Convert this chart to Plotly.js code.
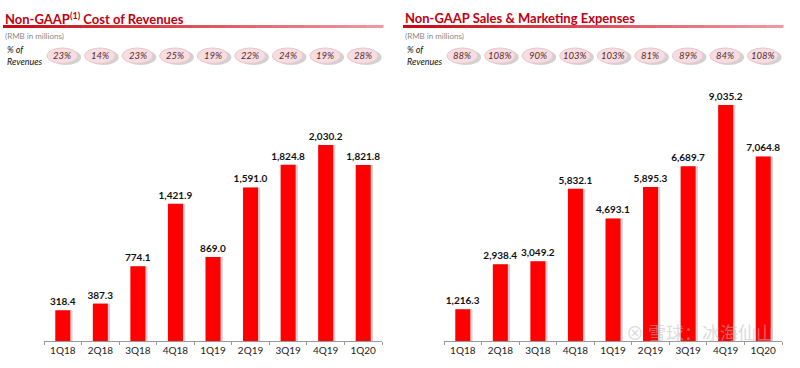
<!DOCTYPE html>
<html>
<head>
<meta charset="utf-8">
<script src="https://cdn.plot.ly/plotly-3.0.1.min.js"></script>
<style>
html,body{margin:0;padding:0;background:#fff;}
#chart{width:800px;height:368px;}
</style>
</head>
<body>
<div id="chart"></div>
<script>
// ---- data ----
const quarters = ['1Q18','2Q18','3Q18','4Q18','1Q19','2Q19','3Q19','4Q19','1Q20'];
const costValues = [318.4, 387.3, 774.1, 1421.9, 869.0, 1591.0, 1824.8, 2030.2, 1821.8];
const costLabels = ['318.4','387.3','774.1','1,421.9','869.0','1,591.0','1,824.8','2,030.2','1,821.8'];
const costPct = ['23%','14%','23%','25%','19%','22%','24%','19%','28%'];
const smValues = [1216.3, 2938.4, 3049.2, 5832.1, 4693.1, 5895.3, 6689.7, 9035.2, 7064.8];
const smLabels = ['1,216.3','2,938.4','3,049.2','5,832.1','4,693.1','5,895.3','6,689.7','9,035.2','7,064.8'];
const smPct = ['88%','108%','90%','103%','103%','81%','89%','84%','108%'];
const titleLeft = 'Non-GAAP<sup>(1)</sup> Cost of Revenues';
const titleRight = 'Non-GAAP Sales &amp; Marketing Expenses';

const W = 800, H = 368;
const px = v => v / W;
const py = v => (H - v) / H;
const FONT = 'Lato, "Open Sans", sans-serif';
const RED = '#ff0000';

function barTraces(vals, labels, xa, ya) {
  return [
    {type:'bar', x:quarters, y:vals, xaxis:xa, yaxis:ya, width:0.4, offset:-0.14,
     marker:{color:'rgba(0,0,0,0.18)'}, hoverinfo:'skip', showlegend:false},
    {type:'bar', x:quarters, y:vals, xaxis:xa, yaxis:ya, width:0.4, offset:-0.2,
     marker:{color:RED}, text:labels, textposition:'outside', cliponaxis:false,
     constraintext:'none',
     textfont:{family:FONT, size:10, color:'#111', weight:'bold'}, showlegend:false}
  ];
}

const data = [...barTraces(costValues, costLabels, 'x', 'y'), ...barTraces(smValues, smLabels, 'x2', 'y2')];

const shapes = [];
const annotations = [];

function header(x0, title, pcts, xref) {
  annotations.push({xref:'paper', yref:'paper', x:px(x0), y:py(18), xanchor:'left', yanchor:'middle',
    text:title, showarrow:false, font:{family:FONT, size:13, color:'#c00010', weight:'bold'}});
  const segs = 24, len = 380;
  for (let i = 0; i < segs; i++) {
    const t = i / (segs - 1);
    const r = Math.round(200 + 40 * t), g = Math.round(10 + 140 * t), b = Math.round(20 + 140 * t);
    shapes.push({type:'rect', xref:'paper', yref:'paper', layer:'above',
      x0:px(x0 + len * i / segs), x1:px(x0 + len * (i + 1) / segs + 0.5), y0:py(28), y1:py(25),
      fillcolor:`rgb(${r},${g},${b})`, line:{width:0}});
  }
  annotations.push({xref:'paper', yref:'paper', x:px(x0), y:py(36), xanchor:'left', yanchor:'middle',
    text:'(RMB in millions)', showarrow:false, font:{family:FONT, size:8, color:'#888'}});
  annotations.push({xref:'paper', yref:'paper', x:px(x0 + 2), y:py(55), xanchor:'left', yanchor:'middle',
    text:'<i>% of</i><br><i>Revenues</i>', align:'left', showarrow:false, font:{family:FONT, size:9, color:'#111'}});
  pcts.forEach((p, i) => {
    shapes.push({type:'circle', xref:xref, yref:'paper', x0:i - 0.38 + 0.05, x1:i + 0.44 + 0.05,
      y0:py(65), y1:py(49.5), fillcolor:'rgba(0,0,0,0.18)', line:{width:0}});
    shapes.push({type:'circle', xref:xref, yref:'paper', x0:i - 0.42, x1:i + 0.40,
      y0:py(63.5), y1:py(48), fillcolor:'#f5dde1', line:{color:'#e9c6cc', width:1}});
    annotations.push({xref:xref, yref:'paper', x:i - 0.01, y:py(55.8), xanchor:'center', yanchor:'middle',
      text:'<i>' + p + '</i>', showarrow:false, font:{family:FONT, size:9.5, color:'#5a2a2a'}});
  });
}
header(3, titleLeft, costPct, 'x');
header(403, titleRight, smPct, 'x2');

// watermark
annotations.push({xref:'paper', yref:'paper', x:px(700), y:py(332), xanchor:'center', yanchor:'middle',
  text:'⊗ 雪球：冰海仙山', showarrow:false, opacity:0.5,
  font:{family:'"Noto Sans CJK SC", sans-serif', size:18, color:'#bbbbbb'}});

const xBase = {type:'category', showgrid:false, zeroline:false, showline:true, linecolor:'#999', linewidth:1,
  ticks:'outside', tickson:'boundaries', ticklen:3, tickcolor:'#999',
  tickfont:{family:FONT, size:10, color:'#222'}, fixedrange:true};
const yBase = {visible:false, showgrid:false, zeroline:false, fixedrange:true};
const yTop = 80;
const layout = {
  width:W, height:H, margin:{l:0, r:0, t:0, b:0},
  paper_bgcolor:'#fff', plot_bgcolor:'#fff', barmode:'overlay', bargap:0.6,
  showlegend:false,
  xaxis:Object.assign({}, xBase, {domain:[px(44), px(382)], anchor:'y'}),
  yaxis:Object.assign({}, yBase, {domain:[py(341), py(yTop)], range:[0, 2030.2 * (341 - yTop) / 196], anchor:'x'}),
  xaxis2:Object.assign({}, xBase, {domain:[px(444), px(782)], anchor:'y2'}),
  yaxis2:Object.assign({}, yBase, {domain:[py(341), py(yTop)], range:[0, 9035.2 * (341 - yTop) / 236], anchor:'x2'}),
  shapes:shapes, annotations:annotations
};
Plotly.newPlot('chart', data, layout, {displayModeBar:false, staticPlot:true});
</script>
</body>
</html>
